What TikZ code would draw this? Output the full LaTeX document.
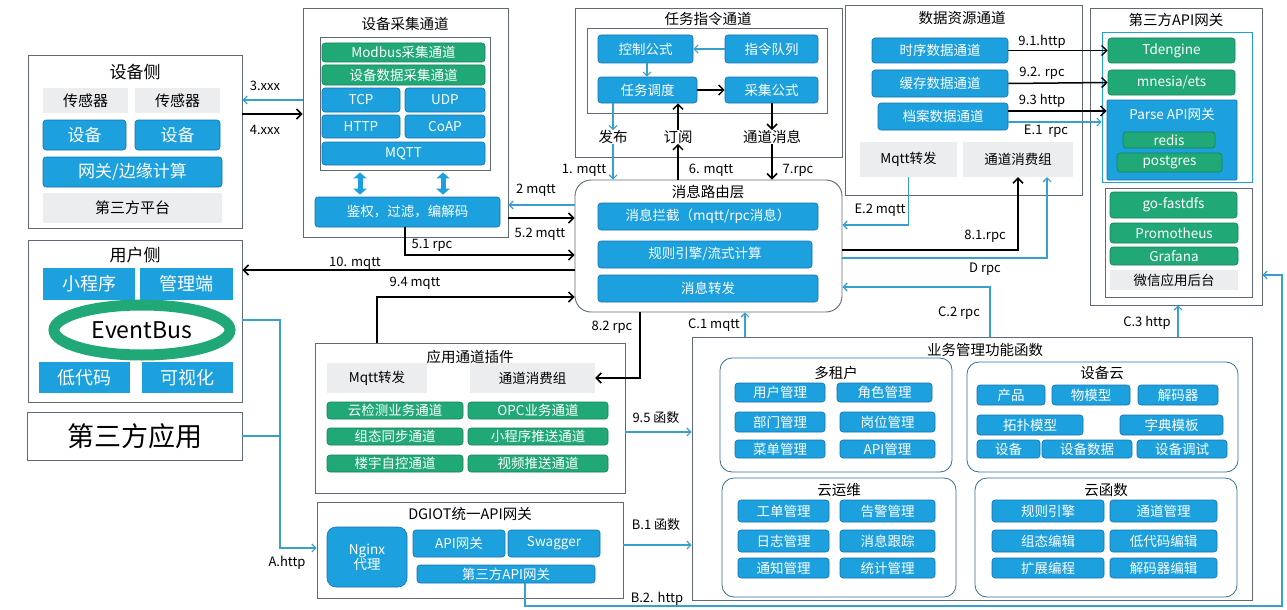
\documentclass[tikz,border=0pt]{standalone}
\usepackage{fontspec}
\setmainfont{Noto Sans CJK SC}
\usetikzlibrary{arrows.meta,shapes.geometric}
\definecolor{bluec}{RGB}{28,160,222}
\definecolor{bluedk}{RGB}{20,115,175}
\definecolor{greenc}{RGB}{32,168,118}
\definecolor{greendk}{RGB}{22,130,90}
\definecolor{grayc}{RGB}{236,237,238}
\definecolor{framec}{RGB}{95,105,120}
\definecolor{tealc}{RGB}{55,160,205}
\tikzset{
 frame/.style={draw=framec, line width=0.9pt},
 item/.style={inner sep=0pt, align=center, font=\fontsize{13.5}{15}\selectfont},
 blu/.style={item, fill=bluec, draw=bluedk, line width=0.6pt, rounded corners=3pt, text=white},
 bluesq/.style={item, fill=bluec, text=white},
 grn/.style={item, fill=greenc, draw=greendk, line width=0.6pt, rounded corners=3pt, text=white},
 gry/.style={item, fill=grayc, text=black},
 ttl/.style={font=\fontsize{14.5}{16}\selectfont, inner sep=0pt},
 lbl/.style={font=\fontsize{13}{14}\selectfont, inner sep=0pt},
 barr/.style={draw=black, line width=1.5pt, -{Straight Barb[length=5pt,width=10pt]}},
 tarr/.style={draw=tealc, line width=1.1pt, -{Straight Barb[length=4pt,width=8pt]}},
 tline/.style={draw=tealc, line width=1.1pt},
 grp/.style={draw=bluedk!60!framec, line width=0.8pt, rounded corners=12pt},
 dbl/.style={draw=bluec, line width=5pt, {Triangle[width=13pt,length=6pt]}-{Triangle[width=13pt,length=6pt]}, shorten <=2pt, shorten >=2pt},
}
\newcommand\bx[7]{\node[#1, minimum width={(#5-#3)*1pt}, minimum height={(#6-#4)*1pt}] (#2) at ({(#3+#5)/2},{(#4+#6)/2}) {#7};}
\begin{document}
\begin{tikzpicture}[x=1pt,y=-1pt]
\fill[white] (0,0) rectangle (1287,610);
\useasboundingbox (0,0) rectangle (1287,610);

% ---------- device side ----------
\bx{frame}{dev}{28}{55}{242}{228}{}
\node[ttl, font=\fontsize{17}{19}\selectfont] (devt) at (135,72) {设备侧};
\bx{gry, font=\fontsize{15}{17}\selectfont}{s1}{43}{88}{128}{113}{传感器}
\bx{gry, font=\fontsize{15}{17}\selectfont}{s2}{135}{88}{220}{113}{传感器}
\bx{blu, font=\fontsize{17}{19}\selectfont}{d1}{43}{120}{126}{150}{设备}
\bx{blu, font=\fontsize{17}{19}\selectfont}{d2}{135}{120}{220}{150}{设备}
\bx{blu, font=\fontsize{17}{19}\selectfont}{gwe}{43}{157}{222}{187}{网关/边缘计算}
\bx{gry, font=\fontsize{15}{17}\selectfont}{tpp}{43}{193}{222}{223}{第三方平台}

% ---------- collection channel ----------
\bx{frame}{col}{303}{8}{508}{237}{}
\node[ttl] (colt) at (405,24) {设备采集通道};
\bx{frame}{colin}{320}{37}{490}{170}{}
\bx{grn}{modbus}{322}{43}{485}{62}{Modbus采集通道}
\bx{grn}{devdata}{322}{65}{485}{85}{设备数据采集通道}
\bx{blu}{tcp}{322}{88}{400}{112}{TCP}
\bx{blu}{udp}{405}{88}{485}{112}{UDP}
\bx{blu}{http}{322}{115}{400}{138}{HTTP}
\bx{blu}{coap}{405}{115}{485}{138}{CoAP}
\bx{blu}{mqtt}{322}{142}{485}{165}{MQTT}
\bx{blu}{auth}{315}{197}{500}{227}{鉴权，过滤，编解码}
\draw[dbl] (360,0 |- colin.south) -- (360,0 |- auth.north);
\draw[dbl] (443,0 |- colin.south) -- (443,0 |- auth.north);

% ---------- task channel ----------
\bx{frame}{task}{575}{8}{842}{157}{}
\node[ttl] (taskt) at (708,19) {任务指令通道};
\bx{frame}{taskin}{587}{28}{827}{113}{}
\bx{blu}{ctrl}{598}{35}{693}{63}{控制公式}
\bx{blu}{queue}{725}{35}{818}{63}{指令队列}
\bx{blu}{sched}{598}{77}{697}{103}{任务调度}
\bx{blu}{acq}{725}{77}{818}{103}{采集公式}
\node[item, font=\fontsize{14.5}{16}\selectfont] (pub) at (613,137) {发布};
\node[item, font=\fontsize{14.5}{16}\selectfont] (sub) at (678,137) {订阅};
\node[item, font=\fontsize{14.5}{16}\selectfont] (chmsg) at (772,137) {通道消息};
\draw[tarr] (queue.west) -- (ctrl.east);
\draw[tarr] (647,0 |- ctrl.south) -- (647,0 |- sched.north);
\draw[barr] (sched.east) -- (acq.west);
\draw[tarr] (pub.north |- sched.south) -- (pub.north);
\draw[barr] (sub.north) -- (sub.north |- sched.south);
\draw[barr] (chmsg.north |- acq.south) -- (chmsg.north);

% ---------- data source channel ----------
\bx{frame}{data}{845}{5}{1082}{195}{}
\node[ttl] (datat) at (962,18) {数据资源通道};
\bx{blu}{ts}{872}{38}{1008}{63}{时序数据通道}
\bx{blu}{cache}{872}{70}{1008}{97}{缓存数据通道}
\bx{blu}{arch}{878}{103}{1008}{130}{档案数据通道}
\bx{gry}{mf}{860}{142}{957}{177}{Mqtt转发}
\bx{gry}{cg}{963}{142}{1073}{177}{通道消费组}

% ---------- third-party API gateway ----------
\bx{frame}{api}{1090}{8}{1262}{305}{}
\node[ttl] (apit) at (1176,20) {第三方API网关};
\bx{draw=bluec, line width=0.8pt}{apiin}{1102}{32}{1252}{182}{}
\bx{grn}{td}{1108}{38}{1235}{63}{Tdengine}
\bx{grn}{mn}{1108}{70}{1235}{95}{mnesia/ets}
\bx{blu, rounded corners=1pt}{parse}{1107}{100}{1237}{180}{}
\node[item, text=white] (parset) at (1172,114) {Parse API网关};
\bx{grn}{redis}{1123}{132}{1215}{148}{redis}
\bx{grn}{pg}{1117}{153}{1222}{172}{postgres}
\bx{frame}{apiin2}{1105}{188}{1252}{297}{}
\bx{grn}{fdfs}{1110}{192}{1237}{218}{go-fastdfs}
\bx{grn}{prom}{1110}{223}{1238}{243}{Promotheus}
\bx{grn}{graf}{1110}{247}{1238}{265}{Grafana}
\bx{gry}{wx}{1110}{270}{1238}{290}{微信应用后台}

% ---------- message routing ----------
\bx{frame, rounded corners=16pt}{route}{575}{180}{842}{312}{}
\node[ttl] (routet) at (708,192) {消息路由层};
\bx{blu}{r1}{598}{203}{818}{230}{消息拦截（mqtt/rpc消息）}
\bx{blu}{r2}{598}{241}{812}{268}{规则引擎/流式计算}
\bx{blu}{r3}{598}{275}{818}{302}{消息转发}

% ---------- user side ----------
\bx{frame}{user}{28}{240}{242}{402}{}
\node[ttl, font=\fontsize{17}{19}\selectfont] (usert) at (135,255) {用户侧};
\bx{bluesq, font=\fontsize{18}{20}\selectfont}{mini}{43}{268}{135}{300}{小程序}
\bx{bluesq, font=\fontsize{18}{20}\selectfont}{admin}{140}{268}{233}{300}{管理端}
\node[draw=greenc, line width=11pt, ellipse, minimum width=176pt, minimum height=50pt, inner sep=0pt, font=\fontsize{23}{25}\selectfont] (eb) at (142,330) {EventBus};
\bx{bluesq, font=\fontsize{18}{20}\selectfont}{low}{39}{362}{130}{393}{低代码}
\bx{bluesq, font=\fontsize{18}{20}\selectfont}{vis}{142}{362}{233}{393}{可视化}
\bx{frame, font=\fontsize{27}{29}\selectfont, inner sep=0pt}{tpa}{27}{412}{242}{460}{第三方应用}

% ---------- application channel plugins ----------
\bx{frame}{app}{315}{343}{625}{493}{}
\node[ttl] (appt) at (470,357) {应用通道插件};
\bx{gry}{amf}{327}{363}{427}{393}{Mqtt转发}
\bx{gry}{acg}{470}{363}{595}{393}{通道消费组}
\bx{grn}{a1}{327}{402}{463}{419}{云检测业务通道}
\bx{grn}{a2}{468}{402}{608}{419}{OPC业务通道}
\bx{grn}{a3}{327}{428}{463}{445}{组态同步通道}
\bx{grn}{a4}{468}{428}{608}{445}{小程序推送通道}
\bx{grn}{a5}{327}{455}{463}{472}{楼宇自控通道}
\bx{grn}{a6}{468}{455}{608}{472}{视频推送通道}

% ---------- DGIOT API gateway ----------
\bx{frame}{gw}{317}{502}{623}{598}{}
\node[ttl] (gwt) at (470,514) {DGIOT统一API网关};
\bx{blu, rounded corners=9pt}{nginx}{327}{527}{407}{587}{Nginx\\代理}
\bx{blu}{apigw}{413}{530}{505}{557}{API网关}
\bx{blu}{swag}{508}{530}{600}{557}{Swagger}
\bx{blu}{tpgw}{417}{565}{595}{583}{第三方API网关}

% ---------- business management ----------
\bx{frame}{biz}{692}{337}{1252}{600}{}
\node[ttl] (bizt) at (985,350) {业务管理功能函数};
\bx{grp}{mt}{720}{358}{952}{472}{}
\node[ttl] (mtt) at (836,373) {多租户};
\bx{blu}{m1}{735}{383}{825}{402}{用户管理}
\bx{blu}{m2}{837}{383}{932}{402}{角色管理}
\bx{blu}{m3}{735}{412}{825}{432}{部门管理}
\bx{blu}{m4}{840}{412}{935}{432}{岗位管理}
\bx{blu}{m5}{735}{440}{825}{458}{菜单管理}
\bx{blu}{m6}{840}{440}{935}{458}{API管理}

\bx{grp}{dcl}{967}{362}{1238}{472}{}
\node[ttl] (dclt) at (1102,373) {设备云};
\bx{blu}{c1}{977}{385}{1045}{405}{产品}
\bx{blu}{c2}{1052}{385}{1130}{405}{物模型}
\bx{blu}{c3}{1138}{385}{1218}{405}{解码器}
\bx{blu}{c4}{977}{415}{1083}{435}{拓扑模型}
\bx{blu}{c5}{1120}{415}{1223}{435}{字典模板}
\bx{blu}{c6}{977}{440}{1040}{458}{设备}
\bx{blu}{c7}{1042}{440}{1132}{458}{设备数据}
\bx{blu}{c8}{1137}{440}{1227}{458}{设备调试}

\bx{grp}{ops}{722}{478}{956}{597}{}
\node[ttl] (opst) at (839,490) {云运维};
\bx{blu}{o1}{738}{500}{829}{522}{工单管理}
\bx{blu}{o2}{840}{500}{935}{522}{告警管理}
\bx{blu}{o3}{738}{530}{829}{552}{日志管理}
\bx{blu}{o4}{840}{530}{935}{552}{消息跟踪}
\bx{blu}{o5}{738}{558}{829}{578}{通知管理}
\bx{blu}{o6}{840}{558}{935}{578}{统计管理}

\bx{grp}{fn}{975}{478}{1237}{597}{}
\node[ttl] (fnt) at (1106,490) {云函数};
\bx{blu}{f1}{992}{500}{1104}{522}{规则引擎}
\bx{blu}{f2}{1110}{500}{1217}{522}{通道管理}
\bx{blu}{f3}{992}{530}{1104}{552}{组态编辑}
\bx{blu}{f4}{1110}{530}{1217}{552}{低代码编辑}
\bx{blu}{f5}{992}{558}{1104}{578}{扩展编程}
\bx{blu}{f6}{1110}{558}{1217}{578}{解码器编辑}

% ---------- connectors ----------
\draw[tarr] (col.west |- 0,100) -- (dev.east |- 0,100);
\node[lbl] (l3) at (265,86) {3.xxx};
\draw[barr] (dev.east |- 0,114) -- (col.west |- 0,114);
\node[lbl] (l4) at (265,130) {4.xxx};

\draw[tarr] (route.west |- 0,205) -- (col.east |- 0,205);
\node[lbl] (l2) at (536,190) {2 mqtt};
\draw[barr] (col.east |- 0,218) -- (route.west |- 0,218);
\node[lbl] (l52) at (540,234) {5.2 mqtt};
\draw[barr] (405,0 |- auth.south) |- (route.west |- 0,255);
\node[lbl] (l51) at (432,245) {5.1 rpc};
\draw[barr] (route.west |- 0,270) -- (user.east |- 0,270);
\node[lbl] (l10) at (355,263) {10. mqtt};
\draw[barr] (377,0 |- app.north) |- (route.west |- 0,297);
\node[lbl] (l94) at (415,283) {9.4 mqtt};
\draw[barr] (640,0 |- route.south) |- (acg.east);
\node[lbl] (l82) at (612,327) {8.2 rpc};

\draw[tarr] (pub.south) -- (pub.south |- route.north);
\node[lbl] (l1) at (584,170) {1. mqtt};
\draw[barr] (sub.south |- route.north) -- (sub.south);
\node[lbl] (l6) at (711,170) {6. mqtt};
\draw[barr] (chmsg.south) -- (chmsg.south |- route.north);
\node[lbl] (l7) at (798,170) {7.rpc};

\draw[barr] (ts.east) -- (td.west);
\node[lbl] (l91) at (1042,42) {9.1.http};
\draw[barr] (cache.east) -- (mn.west);
\node[lbl] (l92) at (1042,73) {9.2. rpc};
\draw[barr] (arch.east |- 0,111) -- (parse.west |- 0,111);
\node[lbl] (l93) at (1042,101) {9.3 http};
\draw[tarr] (arch.east |- 0,122) -- (apiin.west |- 0,122);
\node[lbl] (le1) at (1046,131) {E.1 \ rpc};

\draw[tarr] (mf.south) |- (route.east |- 0,225);
\node[lbl] (le2) at (880,210) {E.2 mqtt};
\draw[barr] (route.east |- 0,250) -| (cg.south);
\node[lbl] (l81) at (985,236) {8.1.rpc};
\draw[tarr] (route.east |- 0,258) -| (1047,0 |- cg.south);
\node[lbl] (ld) at (985,269) {D rpc};

\draw[tarr] (745,0 |- biz.north) -- (745,0 |- route.south);
\node[lbl] (lc1) at (714,325) {C.1 mqtt};
\draw[tarr] (990,0 |- biz.north) |- (route.east |- 0,287);
\node[lbl] (lc2) at (959,313) {C.2 rpc};
\draw[tarr] (1178,0 |- biz.north) -- (1178,0 |- api.south);
\node[lbl] (lc3) at (1147,323) {C.3 http};

\draw[tarr] (app.east |- 0,432) -- (biz.west |- 0,432);
\node[lbl] (l95) at (656,418) {9.5 函数};
\draw[tarr] (gw.east |- 0,545) -- (biz.west |- 0,545);
\node[lbl] (lb1) at (656,525) {B.1 函数};
\draw[tarr] (525,0 |- tpgw.south) |- (1282,606) |- (api.east |- 0,275);
\node[lbl] (lb2) at (657,599) {B.2. http};

\draw[tline] (user.east |- 0,320) -| (280,0 |- tpa.east);
\draw[tline] (tpa.east) -- (280,0 |- tpa.east);
\draw[tarr] (280,0 |- tpa.east) |- (gw.west |- 0,548);
\node[lbl] (la) at (287,563) {A.http};
\end{tikzpicture}
\end{document}
